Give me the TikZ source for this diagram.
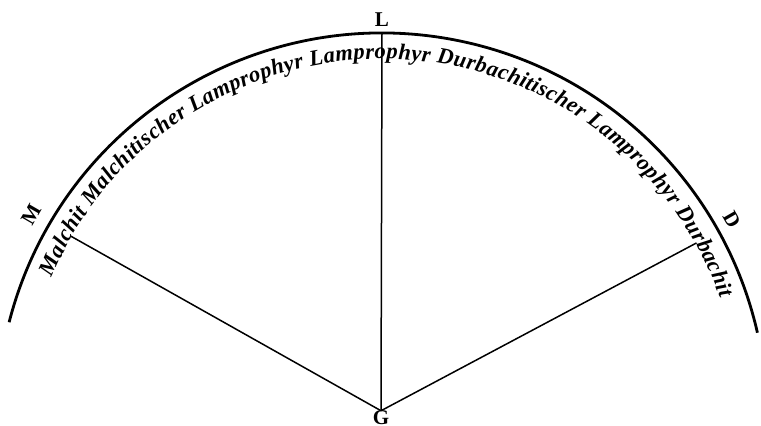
\documentclass[tikz,border=0pt]{standalone}
\usepackage{fontspec}
\setmainfont{Liberation Serif}
\usetikzlibrary{decorations.text}
\begin{document}
\begin{tikzpicture}[x=1pt,y=1pt,
  lbl/.style={font=\bfseries\fontsize{21}{21}\selectfont, inner sep=0pt},
  ray/.style={line width=1.5pt}]
\useasboundingbox (0,0) rectangle (761,426);
\coordinate (O) at (382,8);
\draw[line width=2.8pt] ([shift={(165.6:385)}]O) arc[start angle=165.6, end angle=12.8, radius=385];
\path[decorate, decoration={text along path, text align={fit to path},
  text={|\bfseries\itshape\fontsize{22.5}{22.5}\selectfont|Malchit Malchitischer Lamprophyr Lamprophyr Durbachitischer Lamprophyr Durbachit}}]
  ([shift={(157:359)}]O) arc[start angle=157, end angle=19.5, radius=359];
\node[lbl] (G) at (381,8) {G};
\coordinate (Mend) at ([shift={(149.7:361)}]O);
\coordinate (Dend) at ([shift={(29.1:360)}]O);
\coordinate (Lend) at ([shift={(90:385)}]O);
\node[lbl, rotate=60] (M) at ([shift={(149.9:405)}]O) {M};
\node[lbl, rotate=-60] (D) at ([shift={(29.5:402)}]O) {D};
\node[lbl] (L) at ([shift={(90:398)}]O) {L};
\draw[ray] (G.north) -- (Mend);
\draw[ray] (G.north) -- (Lend);
\draw[ray] (G.north) -- (Dend);
\end{tikzpicture}
\end{document}
